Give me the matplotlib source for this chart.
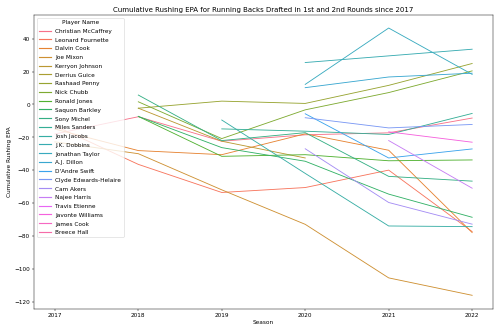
import numpy as np
import pandas as pd
import matplotlib
matplotlib.use("Agg")
import matplotlib.pyplot as plt
import seaborn as sns

seasons = [2017, 2018, 2019, 2020, 2021, 2022]
nan = np.nan

players = [
    "Christian McCaffrey", "Leonard Fournette", "Dalvin Cook", "Joe Mixon",
    "Kerryon Johnson", "Derrius Guice", "Rashaad Penny", "Nick Chubb",
    "Ronald Jones", "Saquon Barkley", "Sony Michel", "Miles Sanders",
    "Josh Jacobs", "J.K. Dobbins", "Jonathan Taylor", "A.J. Dillon",
    "D'Andre Swift", "Clyde Edwards-Helaire", "Cam Akers", "Najee Harris",
    "Travis Etienne", "Javonte Williams", "James Cook", "Breece Hall",
]

# cumulative rushing EPA by season (2017..2022), nan = no season
mccaffrey = [-18, -7.5, -22.4, -18.5, -17.3, -8.3]
fournette = [-13, -36.5, -53.6, -50.6, -40, -77.4]
cook_d = [-15, -28.1, -30.6, -17.9, -27.9, -78]
mixon = [-22.8, -30, -52, -73, -105.6, -116.2]
kerryon = [nan, -2.3, -22.4, -32.6, nan, nan]
guice = [nan, nan, -20, nan, nan, nan]
penny = [nan, -2.3, 2.0, 0.6, 11.6, 24.9]
chubb = [nan, 1.6, -20.8, -3.3, 7.2, 20.4]
jones = [nan, -7.3, -31.6, -30.6, -34.3, -33.8]
barkley = [nan, -7.3, -26.3, -34.6, -54.6, -68.7]
michel = [nan, 5.7, -22, -17.2, -43.8, -46.7]
sanders = [nan, nan, -14.9, -16.3, -18.3, -5.5]
jacobs = [nan, nan, -9.5, -42, -74, -74.4]
dobbins = [nan, nan, nan, 25.5, nan, 33.6]
taylor = [nan, nan, nan, 12.2, 46.5, 18.3]
dillon = [nan, nan, nan, 10.2, 16.7, 19.0]
swift = [nan, nan, nan, -5.7, -32.6, -27.1]
ceh = [nan, nan, nan, -8.1, -14.3, -12.2]
akers = [nan, nan, nan, -27, -59.7, -72.9]
harris = [nan, nan, nan, nan, -22, -51]
etienne = [nan, nan, nan, nan, nan, -20]
williams = [nan, nan, nan, nan, -16.7, -23]
cook_j = [nan, nan, nan, nan, nan, -5]
hall = [nan, nan, nan, nan, nan, 5]

values = [mccaffrey, fournette, cook_d, mixon, kerryon, guice, penny, chubb,
          jones, barkley, michel, sanders, jacobs, dobbins, taylor, dillon,
          swift, ceh, akers, harris, etienne, williams, cook_j, hall]

rows = []
for name, vals in zip(players, values):
    for s, v in zip(seasons, vals):
        if not np.isnan(v):
            rows.append((name, s, v))
df = pd.DataFrame(rows, columns=["Player Name", "Season", "Cumulative Rushing EPA"])

colors = sns.color_palette("husl", len(players))

fig = plt.figure(figsize=(12, 8), dpi=500 / 12)
ax = fig.add_axes([0.068, 0.073, 0.918, 0.882])
for name, c in zip(players, colors):
    sub = df[df["Player Name"] == name]
    ax.plot(sub["Season"], sub["Cumulative Rushing EPA"], color=c, label=name, lw=1.5)

ax.set_title("Cumulative Rushing EPA for Running Backs Drafted in 1st and 2nd Rounds since 2017")
ax.set_xlabel("Season")
ax.set_ylabel("Cumulative Rushing EPA")
ax.set_xticks(seasons)
leg = ax.legend(title="Player Name", loc="upper left", labelspacing=0.64)
for h in leg.get_lines():
    h.set_linewidth(2)
fig.savefig("out.png", dpi=500 / 12)
